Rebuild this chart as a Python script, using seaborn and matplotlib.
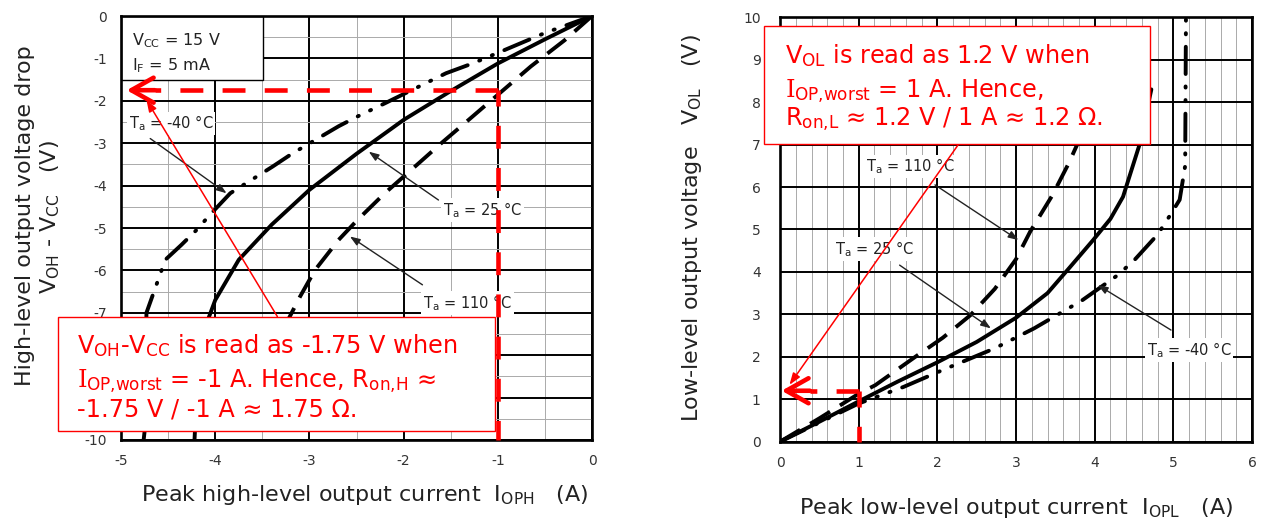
import seaborn as sns
import matplotlib.pyplot as plt
from matplotlib.patches import Rectangle

# ---- data ----
# left: peak high-level output current I_OPH (A) vs V_OH - V_CC (V)
high_x_25 = [0, -0.5, -1.0, -1.5, -2.0, -2.5, -3.0, -3.4, -3.75, -4.0, -4.1, -4.17, -4.2, -4.22]
high_y_25 = [0, -0.55, -1.12, -1.77, -2.45, -3.25, -4.1, -4.92, -5.75, -6.7, -7.3, -8.2, -9.1, -10]
high_x_110 = [0, -0.29, -0.65, -0.98, -1.31, -1.6, -1.96, -2.2, -2.49, -2.69, -2.94, -3.1, -3.35, -3.52, -3.6]
high_y_110 = [0, -0.57, -1.19, -1.82, -2.45, -3.0, -3.71, -4.18, -4.81, -5.28, -5.99, -6.62, -7.7, -8.8, -10]
high_x_m40 = [0, -0.5, -1.0, -1.27, -1.55, -2.2, -2.49, -2.69, -3.18, -3.39, -3.59, -3.84, -4.04,
              -4.2, -4.36, -4.53, -4.65, -4.73, -4.75, -4.76]
high_y_m40 = [0, -0.4, -0.87, -1.12, -1.35, -2.06, -2.37, -2.6, -3.24, -3.55, -3.83, -4.18, -4.65,
              -5.05, -5.4, -5.75, -6.5, -7.0, -9.8, -10]

# right: peak low-level output current I_OPL (A) vs V_OL (V)
low_x_25 = [0, 0.5, 1.0, 1.5, 2.0, 2.5, 3.0, 3.4, 3.68, 3.98, 4.2, 4.36, 4.57, 4.72]
low_y_25 = [0, 0.47, 0.95, 1.42, 1.87, 2.35, 2.92, 3.5, 4.1, 4.75, 5.25, 5.77, 7.0, 8.3]
low_x_110 = [0, 0.5, 1.0, 1.21, 1.72, 2.07, 2.42, 2.73, 3.0, 3.18, 3.46, 3.67, 3.85]
low_y_110 = [0, 0.55, 1.13, 1.33, 2.0, 2.45, 2.98, 3.6, 4.3, 4.95, 5.8, 6.56, 7.3]
low_x_m40 = [0, 0.5, 1.0, 1.57, 2.07, 2.73, 3.23, 3.84, 4.29, 4.5, 4.8, 4.95, 5.08, 5.15, 5.16]
low_y_m40 = [0, 0.45, 0.9, 1.29, 1.69, 2.2, 2.67, 3.33, 3.92, 4.27, 4.88, 5.31, 5.7, 6.5, 10]

high_xticks = [-5, -4, -3, -2, -1, 0]
high_yticks = [0, -1, -2, -3, -4, -5, -6, -7, -8, -9, -10]
high_yticklabels = ['0', '-1', '-2', '-3', '-4', '-5', '-6', '-7', '', '', '-10']  # -8, -9 hidden by the note
low_xticks = [0, 1, 2, 3, 4, 5, 6]
low_yticks = [0, 1, 2, 3, 4, 5, 6, 7, 8, 9, 10]

# operating point
high_read = (-1, -1.75)
low_read = (1, 1.2)

sns.set_style('white')
plt.rcParams['font.family'] = ['DejaVu Sans']
plt.rcParams['axes.unicode_minus'] = False
plt.rcParams['mathtext.fontset'] = 'custom'
plt.rcParams['mathtext.rm'] = 'DejaVu Sans'
plt.rcParams['mathtext.sf'] = 'DejaVu Sans'
plt.rcParams['mathtext.it'] = 'DejaVu Serif'

fig = plt.figure(figsize=(12.62, 5.23), dpi=100)
axL = fig.add_axes([0.0959, 0.1587, 0.3732, 0.8107])
axR = fig.add_axes([0.6181, 0.1555, 0.3740, 0.8115])

LW = 2.8
dash_110 = (0, (6, 3))
dash_m40 = (0, (7, 3.2, 0.3, 3.2, 0.3, 3.2))
INK = '#222222'


def draw_curves(ax, x25, y25, x110, y110, xm40, ym40):
    sns.lineplot(x=x25, y=y25, ax=ax, color='black', lw=LW, sort=False, estimator=None, zorder=3)
    sns.lineplot(x=x110, y=y110, ax=ax, color='black', lw=LW, sort=False, estimator=None,
                 linestyle=dash_110, zorder=3)
    sns.lineplot(x=xm40, y=ym40, ax=ax, color='black', lw=LW, sort=False, estimator=None,
                 linestyle=dash_m40, dash_capstyle='round', zorder=3)


def style_axes(ax, xticks, yticks, yticklabels, xminor, yminor, xlim, ylim, ypad):
    ax.set_xlim(*xlim)
    ax.set_ylim(*ylim)
    ax.set_xticks(xticks)
    ax.set_xticklabels([str(t) for t in xticks])
    ax.set_yticks(yticks)
    ax.set_yticklabels(yticklabels)
    ax.set_xticks(xminor, minor=True)
    ax.set_yticks(yminor, minor=True)
    ax.grid(which='major', color='black', lw=1.4, zorder=1)
    ax.grid(which='minor', color='#aaaaaa', lw=0.7, zorder=1)
    ax.set_axisbelow(True)
    ax.tick_params(which='both', length=0, labelsize=10, labelcolor='#333333')
    ax.tick_params(axis='x', pad=10)
    ax.tick_params(axis='y', pad=ypad)
    for s in ax.spines.values():
        s.set_visible(True)
        s.set_color('black')
        s.set_linewidth(1.9)
    ax.set_xlabel('')
    ax.set_ylabel('')


def label(ax, x, y, s):
    ax.text(x, y, s, ha='center', va='center', fontsize=10.5, color=INK, zorder=4,
            bbox=dict(fc='white', ec='none', pad=1.5))


def pointer(ax, start, end):
    ax.annotate('', xy=end, xytext=start, zorder=4,
                arrowprops=dict(arrowstyle='-|>,head_length=0.6,head_width=0.22', color=INK,
                                lw=1.0, shrinkA=0, shrinkB=0))


def red_readout(ax, corner, tip_x, bottom_y, shaft):
    cx, cy = corner
    ax.plot([cx, tip_x + shaft], [cy, cy], color='red', lw=3.3, ls=(0, (5, 4.2)),
            solid_capstyle='butt', zorder=5, clip_on=False)
    ax.plot([cx, cx], [cy, bottom_y], color='red', lw=3.3, ls=(1.5, (5, 4.2)),
            zorder=5, clip_on=False)
    ax.annotate('', xy=(tip_x, cy), xytext=(tip_x + shaft, cy), zorder=5,
                arrowprops=dict(arrowstyle='->,head_length=1.6,head_width=0.9', color='red',
                                lw=3.3, shrinkA=0, shrinkB=0))


def red_pointer(ax, start, end):
    ax.annotate('', xy=end, xytext=start, zorder=5, annotation_clip=False,
                arrowprops=dict(arrowstyle='-|>,head_length=0.7,head_width=0.25', color='red',
                                lw=1.1, shrinkA=0, shrinkB=0))


# ---- left chart ----
draw_curves(axL, high_x_25, high_y_25, high_x_110, high_y_110, high_x_m40, high_y_m40)
style_axes(axL, high_xticks, high_yticks, high_yticklabels,
           [-4.5, -3.5, -2.5, -1.5, -0.5], [-0.5 - i for i in range(10)],
           (-5, 0), (-10, 0), 10)
axL.add_patch(Rectangle((-5, -1.51), 1.51, 1.51, fc='white', ec='black', lw=1.0, zorder=2.5))
axL.text(-4.88, -0.57, 'V$_{\\mathrm{CC}}$ = 15 V', fontsize=11.5, va='center', color=INK, zorder=4)
axL.text(-4.88, -1.16, 'I$_{\\mathrm{F}}$ = 5 mA', fontsize=11.5, va='center', color=INK, zorder=4)
label(axL, -4.47, -2.53, 'T$_{\\mathrm{a}}$ = -40 °C')
label(axL, -1.16, -4.58, 'T$_{\\mathrm{a}}$ = 25 °C')
label(axL, -1.32, -6.77, 'T$_{\\mathrm{a}}$ = 110 °C')
pointer(axL, (-4.69, -2.89), (-3.88, -4.18))
pointer(axL, (-1.63, -4.34), (-2.37, -3.2))
pointer(axL, (-1.80, -6.34), (-2.57, -5.2))
red_readout(axL, high_read, -4.94, -10, 0.3)
red_pointer(axL, (-3.34, -7.09), (-4.73, -1.98))

# ---- right chart ----
draw_curves(axR, low_x_25, low_y_25, low_x_110, low_y_110, low_x_m40, low_y_m40)
style_axes(axR, low_xticks, low_yticks, [str(t) for t in low_yticks],
           [i * 0.2 for i in range(31) if i % 5], [],
           (0, 6), (0, 10), 14)
label(axR, 1.65, 6.48, 'T$_{\\mathrm{a}}$ = 110 °C')
label(axR, 1.2, 4.54, 'T$_{\\mathrm{a}}$ = 25 °C')
label(axR, 5.2, 2.16, 'T$_{\\mathrm{a}}$ = -40 °C')
pointer(axR, (1.97, 6.05), (3.03, 4.75))
pointer(axR, (1.52, 4.16), (2.68, 2.67))
pointer(axR, (4.97, 2.63), (4.04, 3.69))
red_readout(axR, low_read, 0.02, 0, 0.36)
red_pointer(axR, (2.27, 7.01), (0.12, 1.34))

# ---- axis titles ----
fig.text(0.0198, 0.587, 'High-level output voltage drop', rotation=90, ha='center', va='center',
         fontsize=16, color=INK)
fig.text(0.0396, 0.585, 'V$_{\\mathrm{OH}}$ - V$_{\\mathrm{CC}}$   (V)', rotation=90, ha='center',
         va='center', fontsize=16, color=INK)
fig.text(0.289, 0.0535, 'Peak high-level output current  I$_{\\mathrm{OPH}}$   (A)', ha='center',
         va='center', fontsize=16, color=INK)
fig.text(0.5483, 0.564, 'Low-level output voltage   V$_{\\mathrm{OL}}$   (V)', rotation=90,
         ha='center', va='center', fontsize=16, color=INK)
fig.text(0.805, 0.029, 'Peak low-level output current  I$_{\\mathrm{OPL}}$   (A)', ha='center',
         va='center', fontsize=16, color=INK)

# ---- red explanation boxes ----
fig.add_artist(Rectangle((0.0457, 0.1765), 0.3468, 0.218, transform=fig.transFigure,
                         fc='white', ec='red', lw=1.0, zorder=6))
fig.add_artist(Rectangle((0.6057, 0.7247), 0.3059, 0.2256, transform=fig.transFigure,
                         fc='white', ec='red', lw=1.0, zorder=6))

box_font = dict(fontsize=17.3, color='red', family='DejaVu Sans', ha='left', va='baseline', zorder=7)
fig.text(0.061, 0.325, 'V$_{\\mathsf{OH}}$-V$_{\\mathsf{CC}}$ is read as -1.75 V when', **box_font)
fig.text(0.061, 0.260, '$\\mathit{I}_{\\mathsf{OP{,}worst}}$ = -1 A. Hence, R$_{\\mathsf{on{,}H}}$ ≈', **box_font)
fig.text(0.061, 0.2027, '-1.75 V / -1 A ≈ 1.75 Ω.', **box_font)
fig.text(0.6224, 0.879, 'V$_{\\mathsf{OL}}$ is read as 1.2 V when', **box_font)
fig.text(0.6224, 0.815, '$\\mathit{I}_{\\mathsf{OP{,}worst}}$ = 1 A. Hence,', **box_font)
fig.text(0.6224, 0.761, 'R$_{\\mathsf{on{,}L}}$ ≈ 1.2 V / 1 A ≈ 1.2 Ω.', **box_font)

fig.savefig('out.png', dpi=100)
